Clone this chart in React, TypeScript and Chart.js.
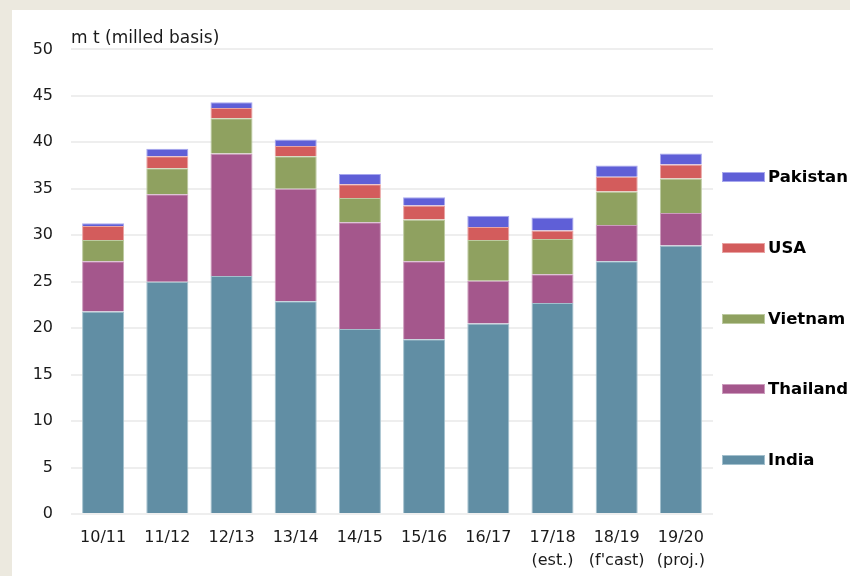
import React, { useEffect, useRef } from "react";
import { Chart, registerables } from "chart.js";

Chart.register(...registerables);

const categories: (string | string[])[] = [
  "10/11", "11/12", "12/13", "13/14", "14/15", "15/16", "16/17",
  ["17/18", "(est.)"], ["18/19", "(f'cast)"], ["19/20", "(proj.)"],
];

const india = [21.8, 25.0, 25.6, 22.9, 19.9, 18.8, 20.5, 22.7, 27.2, 28.9];
const thailand = [5.4, 9.4, 13.2, 12.1, 11.5, 8.4, 4.6, 3.1, 3.9, 3.5];
const vietnam = [2.3, 2.8, 3.8, 3.5, 2.6, 4.5, 4.4, 3.8, 3.6, 3.7];
const usa = [1.5, 1.3, 1.1, 1.1, 1.5, 1.5, 1.4, 0.9, 1.6, 1.5];
const pakistan = [0.3, 0.8, 0.6, 0.7, 1.1, 0.9, 1.2, 1.4, 1.2, 1.2];

const seriesNames = ["India", "Thailand", "Vietnam", "USA", "Pakistan"];
const seriesValues = [india, thailand, vietnam, usa, pakistan];
const seriesColors = ["#618ea4", "#a4578c", "#8fa160", "#d35c5c", "#5f5fd7"];
const seriesBorders = ["#a3c0cd", "#cc9cbd", "#bccaa0", "#e9a3a3", "#a8a8ee"];

const yTitle = "m t (milled basis)";
const yMin = 0;
const yMax = 50;
const yStep = 5;

const FONT = "'DejaVu Sans', Verdana, sans-serif";

export default function App() {
  const ref = useRef<HTMLCanvasElement | null>(null);

  useEffect(() => {
    if (!ref.current) return;
    const chart = new Chart(ref.current, {
      type: "bar",
      data: {
        labels: categories,
        datasets: seriesNames.map((name, i) => ({
          label: name,
          data: seriesValues[i],
          backgroundColor: seriesColors[i],
          borderColor: seriesBorders[i],
          borderWidth: 1,
          categoryPercentage: 0.655,
          barPercentage: 1,
        })),
      },
      options: {
        responsive: false,
        animation: false,
        devicePixelRatio: 1,
        layout: { padding: { left: 0, right: 137, top: 0, bottom: 0 } },
        plugins: {
          legend: { display: false },
          tooltip: { enabled: false },
          title: {
            display: true,
            text: yTitle,
            align: "start",
            fullSize: false,
            color: "#1a1a1a",
            font: { family: FONT, size: 17, weight: "normal" as any, lineHeight: 1.2 },
            padding: { top: 18, bottom: 1 },
          },
        },
        scales: {
          x: {
            stacked: true,
            grid: { display: false, drawTicks: false },
            border: { display: false },
            ticks: {
              color: "#1a1a1a",
              font: { family: FONT, size: 16, lineHeight: 1.45 },
              padding: 12,
              maxRotation: 0,
              autoSkip: false,
            },
            afterFit: (s: any) => { s.height = 62; },
          },
          y: {
            stacked: true,
            min: yMin,
            max: yMax,
            grid: { color: "#eeeeee", lineWidth: 2, drawTicks: false },
            border: { display: false },
            ticks: {
              stepSize: yStep,
              color: "#1a1a1a",
              font: { family: FONT, size: 16 },
              padding: 18,
            },
            afterFit: (s: any) => { s.width = 59; },
          },
        },
      },
    });
    return () => chart.destroy();
  }, []);

  const legendItems = seriesNames.map((n, i) => ({ name: n, color: seriesColors[i], border: seriesBorders[i] })).reverse();

  return (
    <div style={{ position: "fixed", left: 0, top: 0, width: 850, height: 576, background: "#ece9df", overflow: "hidden" }}>
      <div style={{ position: "absolute", left: 12, top: 10, width: 838, height: 566, background: "#ffffff" }}>
        <canvas ref={ref} width={838} height={566} style={{ width: 838, height: 566, display: "block" }} />
        <div style={{ position: "absolute", left: 710, top: 157, width: 128 }}>
          {legendItems.map((it, i) => (
            <div key={it.name} style={{ display: "flex", alignItems: "center", height: 20, marginBottom: i < legendItems.length - 1 ? 50.75 : 0 }}>
              <div style={{ width: 41, height: 8, background: it.color, border: `1px solid ${it.border}`, flex: "none" }} />
              <span style={{ marginLeft: 3, fontFamily: FONT, fontWeight: "bold", fontSize: 16.5, color: "#000", whiteSpace: "nowrap", lineHeight: "20px" }}>{it.name}</span>
            </div>
          ))}
        </div>
      </div>
    </div>
  );
}
